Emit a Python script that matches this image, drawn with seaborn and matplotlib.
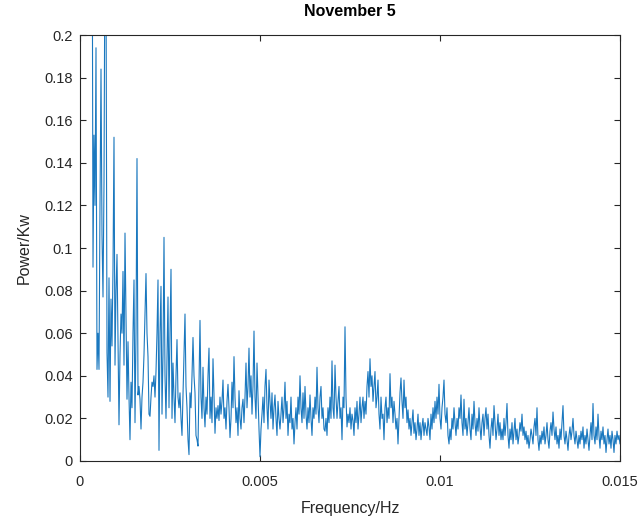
import numpy as np
import pandas as pd
import matplotlib
matplotlib.use("Agg")
import matplotlib.pyplot as plt
import seaborn as sns

# Spectrum samples (kW) on a uniform frequency grid
f_start = 0.015 * 12 / 540
f_step = 0.015 / 540
power = [
    0.300, 0.091, 0.153, 0.120, 0.194, 0.043, 0.060, 0.043, 0.120, 0.184,
    0.106, 0.077, 0.130, 0.250, 0.230, 0.051, 0.030, 0.086, 0.028, 0.076,
    0.054, 0.090, 0.152, 0.045, 0.080, 0.097, 0.055, 0.017, 0.050, 0.069,
    0.060, 0.089, 0.045, 0.107, 0.066, 0.029, 0.056, 0.030, 0.010, 0.037,
    0.025, 0.060, 0.085, 0.018, 0.060, 0.142, 0.031, 0.035, 0.029, 0.015,
    0.030, 0.037, 0.050, 0.070, 0.088, 0.060, 0.049, 0.022, 0.021, 0.030,
    0.037, 0.035, 0.040, 0.030, 0.042, 0.060, 0.085, 0.005, 0.060, 0.082,
    0.022, 0.050, 0.105, 0.040, 0.020, 0.050, 0.077, 0.025, 0.060, 0.090,
    0.020, 0.046, 0.030, 0.018, 0.040, 0.057, 0.030, 0.025, 0.032, 0.020,
    0.012, 0.032, 0.050, 0.069, 0.035, 0.025, 0.010, 0.003, 0.032, 0.025,
    0.040, 0.058, 0.040, 0.032, 0.012, 0.010, 0.007, 0.035, 0.066,
    # 201 -
    0.030, 0.020, 0.044, 0.025, 0.016, 0.030, 0.022, 0.040, 0.053, 0.020,
    0.030, 0.018, 0.048, 0.030, 0.013, 0.025, 0.020, 0.026, 0.019, 0.030,
    0.022, 0.028, 0.038, 0.020, 0.025, 0.015, 0.028, 0.036, 0.025, 0.011,
    0.020, 0.037, 0.025, 0.049, 0.030, 0.018,
    # 237 -
    0.025, 0.012, 0.033, 0.020, 0.015, 0.025, 0.029, 0.018, 0.030, 0.046,
    0.025, 0.035, 0.053, 0.030, 0.040, 0.022, 0.035, 0.061, 0.030, 0.020,
    0.046, 0.030, 0.015, 0.002, 0.015, 0.022, 0.030, 0.018, 0.035, 0.043,
    0.025, 0.015, 0.038, 0.028, 0.020, 0.032, 0.015, 0.025, 0.031, 0.020,
    # 277 -
    0.012, 0.028, 0.020, 0.015, 0.022, 0.030, 0.018, 0.025, 0.037, 0.020,
    0.028, 0.012, 0.022, 0.018, 0.030, 0.015, 0.020, 0.008, 0.018, 0.025,
    0.015, 0.030, 0.022, 0.040, 0.025, 0.018, 0.032, 0.020, 0.035, 0.022,
    0.015, 0.025, 0.018, 0.031, 0.020, 0.012,
    # 313 -
    0.025, 0.020, 0.030, 0.022, 0.044, 0.025, 0.018, 0.030, 0.035, 0.020,
    0.025, 0.015, 0.014, 0.020, 0.012, 0.025, 0.018, 0.030, 0.020, 0.047,
    0.025, 0.020, 0.045, 0.030, 0.020, 0.028, 0.035, 0.020, 0.025, 0.010,
    0.030, 0.025, 0.063, 0.030, 0.016, 0.022, 0.018, 0.025,
    # 351 -
    0.015, 0.022, 0.019, 0.012, 0.025, 0.018, 0.028, 0.015, 0.022, 0.030,
    0.018, 0.025, 0.030, 0.020, 0.028, 0.022, 0.035, 0.042, 0.030, 0.048,
    0.035, 0.040, 0.028, 0.035, 0.042, 0.025, 0.030, 0.038, 0.022, 0.015,
    0.030, 0.020, 0.022, 0.010, 0.025, 0.030, 0.018, 0.025,
    # 389 -
    0.020, 0.041, 0.025, 0.030, 0.018, 0.028, 0.022, 0.015, 0.020, 0.008,
    0.020, 0.032, 0.039, 0.028, 0.020, 0.038, 0.025, 0.030, 0.018, 0.024,
    0.015, 0.020, 0.012, 0.018, 0.024, 0.013, 0.018, 0.010, 0.015, 0.022,
    0.012, 0.018, 0.010, 0.016, 0.020, 0.012, 0.018, 0.015,
    # 427 -
    0.012, 0.020, 0.016, 0.010, 0.022, 0.015, 0.025, 0.018, 0.028, 0.020,
    0.030, 0.022, 0.036, 0.020, 0.015, 0.025, 0.030, 0.038, 0.022, 0.018,
    0.025, 0.012, 0.008, 0.015, 0.010, 0.020, 0.015, 0.025, 0.018, 0.012,
    0.020, 0.015, 0.025, 0.020, 0.031, 0.018, 0.012, 0.029,
    # 465 -
    0.015, 0.020, 0.012, 0.018, 0.025, 0.015, 0.010, 0.022, 0.015, 0.028,
    0.018, 0.012, 0.020, 0.014, 0.025, 0.016, 0.010, 0.018, 0.022, 0.012,
    0.020, 0.025, 0.015, 0.022, 0.012, 0.006, 0.015, 0.020, 0.012, 0.026,
    0.018, 0.010, 0.015, 0.022, 0.012, 0.018, 0.010, 0.015,
    # 503 -
    0.010, 0.020, 0.012, 0.018, 0.027, 0.012, 0.006, 0.015, 0.010, 0.018,
    0.008, 0.014, 0.020, 0.010, 0.015, 0.008, 0.012, 0.018, 0.014, 0.022,
    0.012, 0.016, 0.010, 0.014, 0.008, 0.012, 0.006, 0.010, 0.015, 0.012,
    0.008, 0.016, 0.020, 0.012, 0.025, 0.010, 0.005, 0.012,
    # 541 -
    0.008, 0.014, 0.010, 0.016, 0.008, 0.012, 0.018, 0.010, 0.006, 0.014,
    0.018, 0.012, 0.023, 0.015, 0.010, 0.016, 0.008, 0.012, 0.006, 0.015,
    0.010, 0.018, 0.026, 0.012, 0.008, 0.014, 0.010, 0.005, 0.012, 0.016,
    0.010, 0.014, 0.020, 0.012, 0.008, 0.014, 0.010, 0.006,
    # 579 -
    0.012, 0.008, 0.014, 0.010, 0.016, 0.006, 0.012, 0.008, 0.015, 0.010,
    0.005, 0.012, 0.018, 0.010, 0.027, 0.012, 0.008, 0.016, 0.010, 0.022,
    0.012, 0.006, 0.014, 0.010, 0.016, 0.008, 0.012, 0.004, 0.010, 0.015,
    0.008, 0.012, 0.006, 0.014, 0.010, 0.004, 0.012, 0.008, 0.014, 0.010,
    0.012, 0.008,
]
freq = f_start + f_step * np.arange(len(power))

x_ticks = [0, 0.005, 0.01, 0.015]
x_labels = ["0", "0.005", "0.01", "0.015"]
y_ticks = [0, 0.02, 0.04, 0.06, 0.08, 0.1, 0.12, 0.14, 0.16, 0.18, 0.2]
y_labels = ["0", "0.02", "0.04", "0.06", "0.08", "0.1", "0.12", "0.14", "0.16", "0.18", "0.2"]

sns.set_theme(style="white")
plt.rcParams["font.family"] = ["Liberation Sans", "DejaVu Sans"]

df = pd.DataFrame({"freq": freq, "power": power})

fig = plt.figure(figsize=(6.44, 5.23), dpi=100)
ax = fig.add_axes([80 / 644, 62 / 523, 540 / 644, 426 / 523])
sns.lineplot(data=df, x="freq", y="power", ax=ax, color="#1a78bf",
             linewidth=0.8, estimator=None, sort=False)

ax.set_xlim(0, 0.015)
ax.set_ylim(0, 0.2)
ax.set_xticks(x_ticks)
ax.set_xticklabels(x_labels)
ax.set_yticks(y_ticks)
ax.set_yticklabels(y_labels)

edge = "#262626"
for side in ["top", "bottom", "left", "right"]:
    ax.spines[side].set_visible(True)
    ax.spines[side].set_color(edge)
    ax.spines[side].set_linewidth(0.8)
ax.tick_params(direction="in", length=4, width=0.8, color=edge,
               labelcolor=edge, labelsize=10.5,
               top=True, right=True, bottom=True, left=True)
ax.tick_params(axis="x", pad=10)
ax.tick_params(axis="y", pad=5)

ax.set_xlabel("Frequency/Hz", fontsize=11.5, color=edge, labelpad=9)
ax.set_ylabel("Power/Kw", fontsize=11.5, color=edge, labelpad=9)
ax.set_title("November 5", fontsize=11.5, fontweight="bold", color="black", pad=14)

fig.savefig("out.png", dpi=100)
